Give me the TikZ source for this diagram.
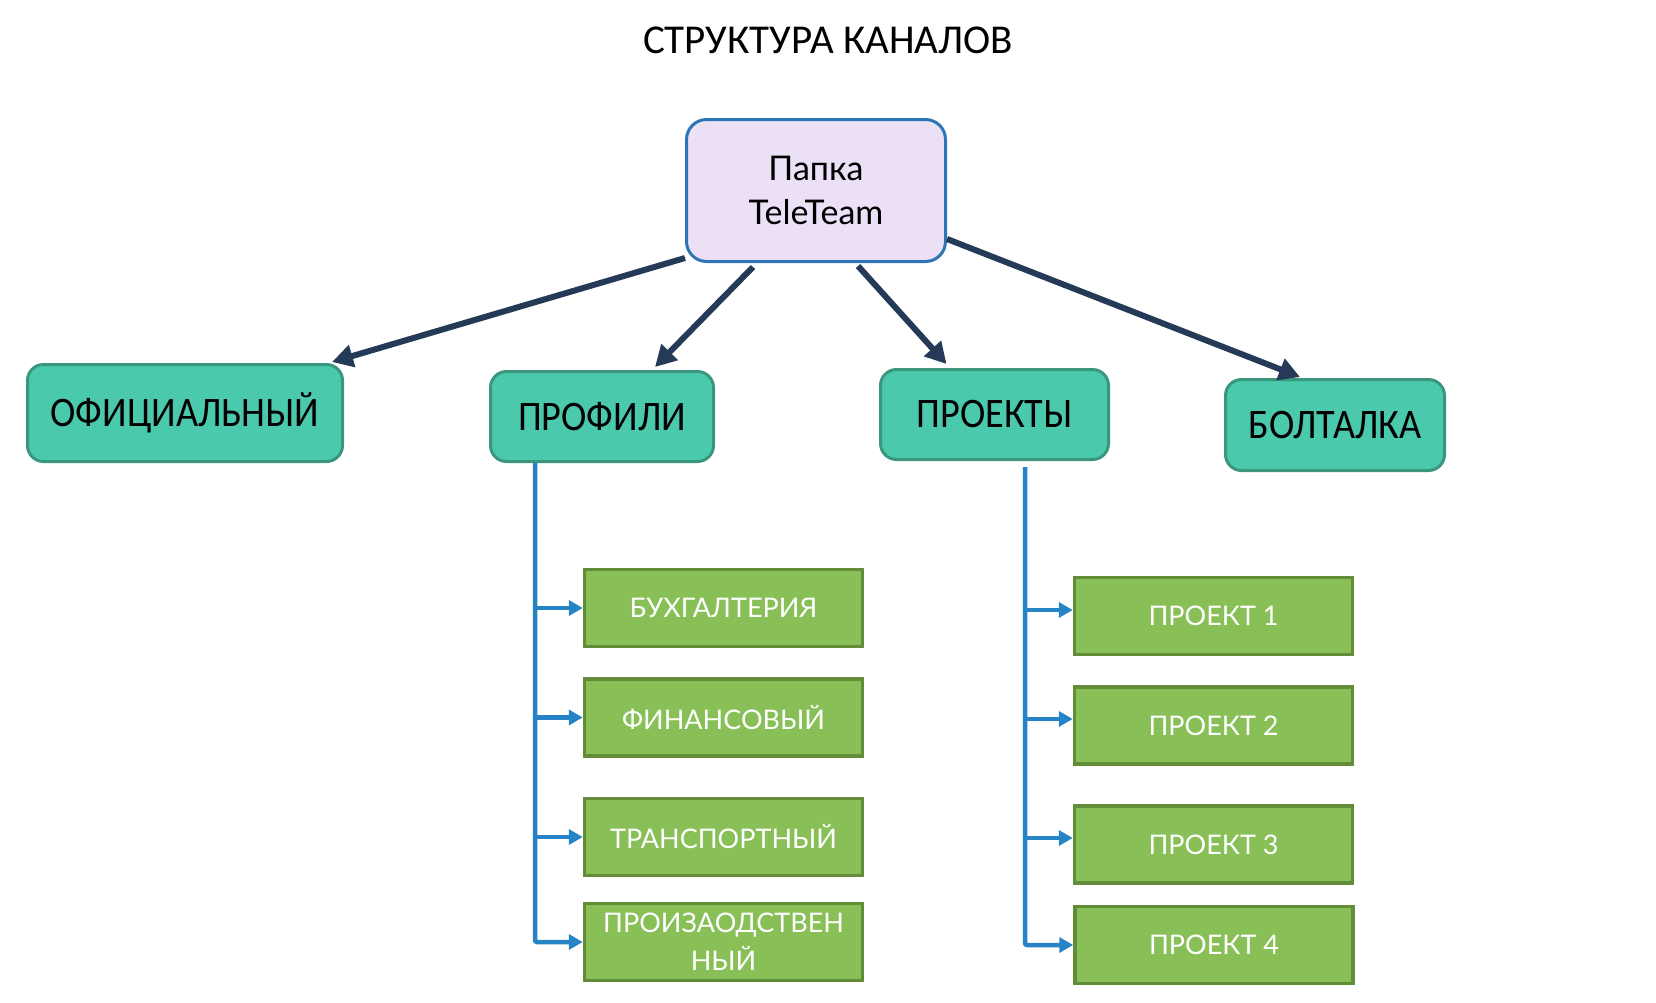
\documentclass[tikz,border=0pt]{standalone}
\usepackage{fontspec}
\usepackage{graphicx}
\setmainfont{Carlito}
\newfontfamily\gothic{Lato}
\usetikzlibrary{arrows.meta,calc}
\newcommand\narrowtext[1]{\scalebox{0.91}[1]{#1}}
\definecolor{navy}{RGB}{36,58,87}
\definecolor{spine}{RGB}{38,131,198}
\definecolor{lav}{RGB}{235,224,245}
\definecolor{lavedge}{RGB}{46,117,182}
\definecolor{teal}{RGB}{75,201,173}
\definecolor{tealedge}{RGB}{58,150,125}
\definecolor{grn}{RGB}{136,192,87}
\definecolor{grnedge}{RGB}{98,140,56}
\tikzset{
  x=1pt,y=-1pt,
  rootbox/.style={draw=lavedge,fill=lav,line width=3pt,rounded corners=20pt,
    minimum width=259pt,minimum height=142pt,inner sep=0pt,align=center,
    font=\gothic\fontsize{34}{44}\selectfont},
  chanbox/.style={draw=tealedge,fill=teal,line width=3pt,rounded corners=16pt,
    inner sep=0pt,font=\fontsize{42}{50}\selectfont},
  subbox/.style={draw=grnedge,fill=grn,line width=3.5pt,
    minimum width=278pt,minimum height=77pt,inner sep=0pt,align=center,
    text=white,font=\gothic\fontsize{27}{38}\selectfont},
  bigarrow/.style={draw=navy,line width=6pt,-{Triangle[length=21pt,width=22pt]}},
  branch/.style={draw=spine,line width=4.5pt,-{Triangle[length=14pt,width=15pt]}},
  titletext/.style={font=\fontsize{41}{45}\selectfont}
}
\begin{document}
\begin{tikzpicture}
\useasboundingbox (0,0) rectangle (1656,1002);
\node[titletext] (title) at (828,40) {СТРУКТУРА КАНАЛОВ};
\node[rootbox] (top) at (816,190.5) {Папка\\TeleTeam};
\node[chanbox,minimum width=315pt,minimum height=97pt] (ofic) at (185,413) {\narrowtext{ОФИЦИАЛЬНЫЙ}};
\node[chanbox,minimum width=223pt,minimum height=90pt] (prof) at (602,416.5) {\narrowtext{ПРОФИЛИ}};
\node[chanbox,minimum width=228pt,minimum height=90pt] (proj) at (994.5,414.5) {\narrowtext{ПРОЕКТЫ}};
\node[chanbox,minimum width=219pt,minimum height=91pt] (bolt) at (1335,425) {\narrowtext{БОЛТАЛКА}};
\node[subbox] (g1) at (723.5,608) {БУХГАЛТЕРИЯ};
\node[subbox] (g2) at (723.5,717.5) {ФИНАНСОВЫЙ};
\node[subbox] (g3) at (723.5,837) {ТРАНСПОРТНЫЙ};
\node[subbox] (g4) at (723.5,942) {ПРОИЗАОДСТВЕН\\НЫЙ};
\node[subbox] (p1) at (1213.5,616) {ПРОЕКТ 1};
\node[subbox] (p2) at (1213.5,725.5) {ПРОЕКТ 2};
\node[subbox] (p3) at (1213.5,844.5) {ПРОЕКТ 3};
\node[subbox] (p4) at (1214,945) {ПРОЕКТ 4};
% main arrows
\draw[bigarrow] ($(top.south west)+(0,-5)$) -- ($(ofic.north east)+(-12,-1)$);
\draw[bigarrow] ($(top.south)+(-63,4)$) -- ($(prof.north)+(53,-3)$);
\draw[bigarrow] ($(top.south)+(42,3)$) -- ($(proj.north)+(-48,-4)$);
\draw[bigarrow] ($(top.south east)+(0,-24)$) -- ($(bolt.north)+(-35,-1)$);
% left spine
\coordinate (ls) at ($(prof.south west)+(46,0)$);
\draw[branch,rounded corners=2pt] (ls) |- (g4.west);
\draw[branch] (ls |- g1.west) -- (g1.west);
\draw[branch] (ls |- g2.west) -- (g2.west);
\draw[branch] (ls |- g3.west) -- (g3.west);
% right spine
\coordinate (rs) at ($(proj.south west)+(146,6)$);
\coordinate (p1a) at ($(p1.west)+(0,-6)$);
\coordinate (p2a) at ($(p2.west)+(0,-6.5)$);
\coordinate (p3a) at ($(p3.west)+(0,-6.5)$);
\draw[branch,rounded corners=2pt] (rs) |- (p4.west);
\draw[branch] (rs |- p1a) -- (p1a);
\draw[branch] (rs |- p2a) -- (p2a);
\draw[branch] (rs |- p3a) -- (p3a);
\end{tikzpicture}
\end{document}
